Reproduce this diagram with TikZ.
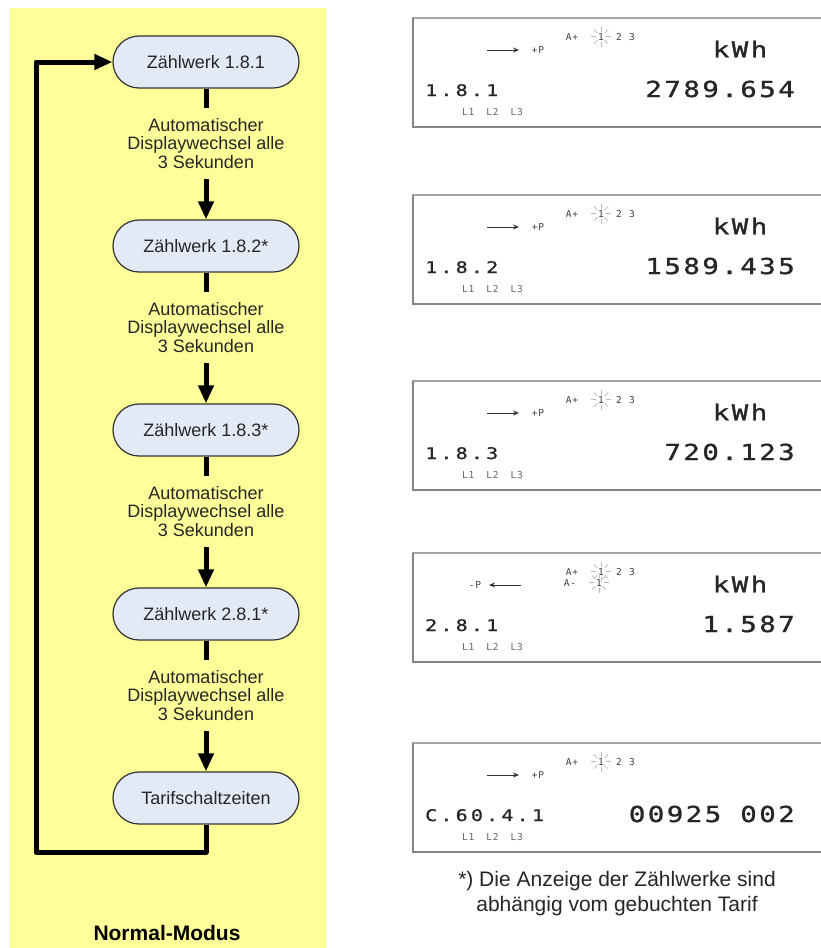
\documentclass[tikz,border=0pt]{standalone}
\usepackage{fontspec}
\setmainfont{Liberation Sans}
\newfontfamily\lcd[FakeStretch=1.25, LetterSpace=11, FakeBold=1.2]{DejaVu Sans Mono}
\newfontfamily\lcdmid[FakeStretch=1.25, LetterSpace=20, FakeBold=1]{DejaVu Sans Mono}
\newfontfamily\lcdsmall[LetterSpace=8]{DejaVu Sans Mono}
\usetikzlibrary{arrows.meta}
\definecolor{panel}{RGB}{255,255,153}
\definecolor{boxfill}{RGB}{228,233,246}
\definecolor{frame}{RGB}{165,165,165}
\begin{document}
\begin{tikzpicture}[x=1pt, y=-1pt,
  flowbox/.style={draw=black!80, line width=1.2pt, fill=boxfill, rounded corners=26pt,
    minimum width=186pt, minimum height=52pt, text=black!85, font=\fontsize{18}{18.5}\selectfont},
  flow/.style={line width=5pt, -{Triangle[length=18pt,width=15pt]}},
  wait/.style={pos=0.42, fill=panel, align=center, inner xsep=2pt, inner ysep=10pt,
    text=black!85, font=\fontsize{18}{18.5}\selectfont},
  digits/.style={font=\lcd\fontsize{22}{22}\selectfont, text=black!85, inner sep=0pt},
  register/.style={font=\lcdmid\fontsize{16}{16}\selectfont, text=black!85, inner sep=0pt, anchor=base west},
  lcdtiny/.style={font=\lcdsmall\fontsize{9.5}{9.5}\selectfont, text=black!75, inner sep=0pt, anchor=base},
  glyph/.style={line width=1pt, black!80, -{Stealth[length=6pt,width=5pt]}}]
  \fill[white] (0,0) rectangle (821,948);
  \fill[panel] (10,8) rectangle (326,948);
  \useasboundingbox (0,0) rectangle (821,948);

  \matrix[row sep={184pt,between origins}] at (206,430) {
    \node[flowbox] (Z1) {Zählwerk 1.8.1}; \\
    \node[flowbox] (Z2) {Zählwerk 1.8.2*}; \\
    \node[flowbox] (Z3) {Zählwerk 1.8.3*}; \\
    \node[flowbox] (Z4) {Zählwerk 2.8.1*}; \\
    \node[flowbox] (T) {Tarifschaltzeiten}; \\
  };
  \foreach \a/\b in {Z1/Z2, Z2/Z3, Z3/Z4, Z4/T}
    \draw[flow] (\a) -- (\b) node[wait] {Automatischer\\Displaywechsel alle\\3 Sekunden};
  \coordinate (back) at (36,852);
  \draw[flow, line join=round] (T) |- (back) |- (Z1);
  \node[font=\bfseries\fontsize{21}{21}\selectfont] (mode) at (167,933) {Normal-Modus};

  \foreach \t/\reg/\val [count=\i] in {18/1.8.1/2789.654, 195/1.8.2/1589.435,
      381/1.8.3/720.123, 553/2.8.1/1.587, 743/C.60.4.1/00925 002} {
    \begin{scope}[shift={(413,\t)}]
      \draw[frame, line width=1.5pt] (0,0) rectangle (420,109);
      \draw[frame!80!black, line width=2.5pt] (0,0) -- (0,109) -- (420,109);
      \node[register] (reg\i) at (12,78) {\reg};
      \node[digits, anchor=base east] (val\i) at (382,79) {\val};
      \node[lcdtiny] (ap\i) at (159,22) {A+};
      \node[lcdtiny] (one\i) at (188,22) {1};
      \node[lcdtiny] (two\i) at (206,22) {2};
      \node[lcdtiny] (three\i) at (219,22) {3};
      \foreach \a in {0,45,...,315}
        \draw[gray!55, line width=0.7pt] ([shift={(\a:5pt)}]one\i.center) -- ([shift={(\a:10pt)}]one\i.center);
      \node[lcdtiny, anchor=base west, text=black!60] (ph\i) at (49,97) {L1\hskip 12pt L2\hskip 12pt L3};
    \end{scope}
  }
  \foreach \t [count=\i] in {18,195,381,553}
    \node[digits] (unit\i) at (740,\t+31) {kWh};
  \foreach \t [count=\i] in {18,195,381,743} {
    \coordinate (pa\i) at (487,\t+32);
    \coordinate (pb\i) at (519,\t+32);
    \draw[glyph] (pa\i) -- (pb\i);
    \node[lcdtiny] (pp\i) at (538,\t+35) {+P};
  }
  \coordinate (ma) at (521,585);
  \coordinate (mb) at (489,585);
  \draw[glyph] (ma) -- (mb);
  \node[lcdtiny] (mp) at (475,588) {-P};
  \node[lcdtiny] (am) at (570,586) {A-};
  \node[lcdtiny] (onem) at (599,586) {1};
  \foreach \a in {0,45,...,315}
    \draw[gray!55, line width=0.7pt] ([shift={(\a:5pt)}]onem.center) -- ([shift={(\a:10pt)}]onem.center);

  \node[align=center, text=black!85, font=\fontsize{21}{25}\selectfont] (note) at (617,894)
    {*) Die Anzeige der Zählwerke sind\\abhängig vom gebuchten Tarif};
\end{tikzpicture}
\end{document}
